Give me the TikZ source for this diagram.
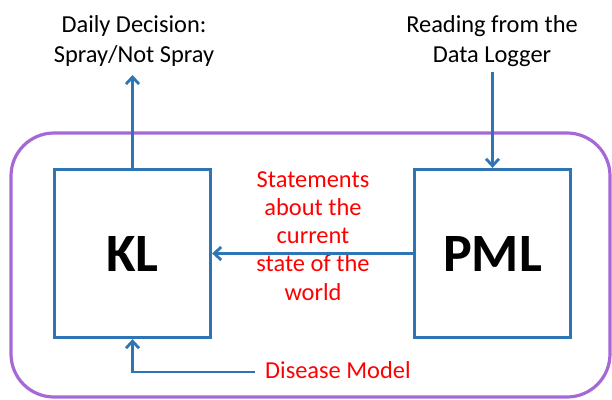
\documentclass[tikz,border=0pt]{standalone}
\usepackage{fontspec}
\setmainfont{Carlito}
\usetikzlibrary{arrows.meta}
\definecolor{lineblue}{RGB}{46,117,182}
\definecolor{framepurple}{RGB}{165,105,215}
\definecolor{txtred}{RGB}{255,0,0}
\begin{document}
\begin{tikzpicture}[x=1pt,y=-1pt,
  box/.style={draw=lineblue,line width=2.8pt,minimum width=156.5pt,minimum height=168.5pt,inner sep=0pt,font=\fontsize{54}{60}\selectfont\bfseries},
  conn/.style={draw=lineblue,line width=2.8pt,-{Straight Barb[length=7pt,width=13pt,line width=2.8pt]}},
  lbl/.style={font=\fontsize{24.4}{30}\selectfont,align=center,inner sep=0pt},
  redlbl/.style={font=\fontsize{24.4}{28.2}\selectfont,align=center,inner sep=0pt,text=txtred}
]
\useasboundingbox (0,0) rectangle (612,399);
\draw[framepurple,line width=3.2pt,rounded corners=43pt] (11,133) rectangle (610,397);
\node[box] (kl) at (132.5,253.5) {KL};
\node[box] (pml) at (492.5,253.5) {PML};
\node[lbl,anchor=base] (dec) at (134,62) {Daily Decision:\\Spray/Not Spray};
\node[lbl,anchor=base] (read) at (492,62) {Reading from the\\Data Logger};
\node[redlbl,anchor=base] (stm) at (313,300) {Statements\\about the\\current\\state of the\\world};
\node[redlbl,anchor=base west] (dis) at (265,378) {Disease Model};
\coordinate (dectip) at (132.5,75);
\coordinate (readstart) at (492.5,72);
\coordinate (disstart) at (255,372);
\draw[conn] (kl.north) -- (dectip);
\draw[conn] (readstart) -- (pml.north);
\draw[conn] (pml.west) -- (kl.east);
\draw[conn] (disstart) -| (kl.south);
\end{tikzpicture}
\end{document}
